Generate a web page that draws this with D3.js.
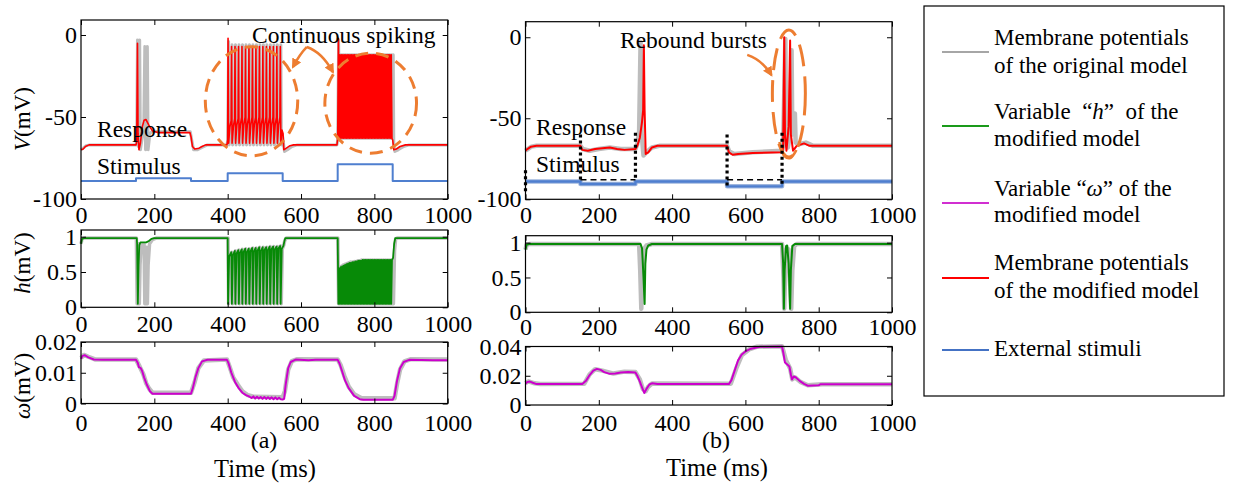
<!DOCTYPE html>
<html><head><meta charset="utf-8">
<script src="https://cdn.jsdelivr.net/npm/d3@7"></script>
<style>body{margin:0;background:#fff}svg{display:block}svg text{font-family:"Liberation Serif","DejaVu Serif","Noto Serif",serif !important;fill:#000}</style>
</head><body><svg id="c" width="1233" height="486"></svg>
<script>
// ---------- tick labels ----------
const timeTicks = [0,200,400,600,800,1000];
const vTicks = [0,-50,-100];
const hTicks = [0,0.5,1];
const wTicksA = [0,0.01,0.02];
const wTicksB = [0,0.02,0.04];

// ---------- panel (a) ----------
const stimA = [[0,-89],[150,-89],[150,-87.4],[300,-87.4],[300,-89],[400,-89],[400,-84.3],[550,-84.3],[550,-89],[700,-89],[700,-78.8],[850,-78.8],[850,-89],[1000,-89]];
const vOrigA = [[0,-70],[6,-69],[14,-67.5],[24,-67],[150,-67],[152,-63],[154,-3],[156,-68],[158,-62],[160,-3],[162,-70],[166,-64],[171,-58],[174,-7],[176,-70],[178,-62],[181,-7],[183,-70],[188,-60],[196,-58.5],[210,-59],[298,-59],[302,-64],[307,-70],[318,-70],[330,-68.5],[345,-67],[398,-67],
[400,-64],[402.5,-4],[404,-67],[407.5,-56],[411,-51],[412,-6],[413.5,-67],[417,-55],[420.5,-51],[421.5,-6],[423,-67],[426.5,-55],[430,-50],[431,-6],[432.5,-67],[436,-55],[439.5,-50],[440.5,-6],[442,-67],[445.5,-55],[449,-50],[450,-6],[451.5,-67],[455,-55],[458.5,-50],[459.5,-6],[461,-67],[464.5,-55],[468,-50],[469,-6],[470.5,-67],[474,-55],[477.5,-50],[478.5,-6],[480,-67],[483.5,-55],[487,-50],[488,-6],[489.5,-67],[493,-55],[496.5,-50],[497.5,-6],[499,-67],[502.5,-55],[506,-50],[507,-6],[508.5,-67],[512,-55],[515.5,-50],[516.5,-6],[518,-67],[521.5,-55],[525,-50],[526,-6],[527.5,-67],[531,-55],[534.5,-50],[535.5,-6],[537,-67],[540.5,-55],[544,-50],[545,-6],[546.5,-67],[550,-62],[555,-71],[563,-70],[575,-68],[590,-67],[698,-67],
[700,-64],[702.5,-3],[705,-63],[707,-12],[710,-63],[712,-12],[715,-63],[717,-12],[720,-63],[722,-12],[725,-63],[727,-12],[730,-63],[732,-12],[735,-63],[737,-12],[740,-63],[742,-12],[745,-63],[747,-12],[750,-63],[752,-12],[755,-63],[757,-12],[760,-63],[762,-12],[765,-63],[767,-12],[770,-63],[772,-12],[775,-63],[777,-12],[780,-63],[782,-12],[785,-63],[787,-12],[790,-63],[792,-12],[795,-63],[797,-12],[800,-63],[802,-12],[805,-63],[807,-12],[810,-63],[812,-12],[815,-63],[817,-12],[820,-63],[822,-12],[825,-63],[827,-12],[830,-63],[832,-12],[835,-63],[837,-12],[840,-63],[842,-12],[845,-63],[847,-12],[850,-63],[851.5,-12],[853,-66],[856,-71],[865,-70],[880,-68],[895,-67],[1000,-67]];
const vModA = [[0,-70],[6,-69.5],[12,-68],[22,-67],[150,-67],[152,-65],[154,-5],[155.5,-60],[158,-70],[162,-66],[167,-56],[172,-52],[177,-51.5],[185,-55],[195,-58.5],[210,-59.5],[297,-59.5],[300,-62],[304,-68],[310,-69.5],[322,-69],[330,-68],[340,-67],[398,-67],
[400,-64],[401,-2],[402.5,-66],[406,-56],[409.5,-52],[410.5,-7],[412,-66],[415.5,-56],[419,-51],[420,-7],[421.5,-66],[425,-55],[428.5,-51],[429.5,-7],[431,-66],[434.5,-55],[438,-50],[439,-7],[440.5,-66],[444,-55],[447.5,-50],[448.5,-7],[450,-66],[453.5,-55],[457,-50],[458,-7],[459.5,-66],[463,-55],[466.5,-50],[467.5,-7],[469,-66],[472.5,-55],[476,-50],[477,-7],[478.5,-66],[482,-55],[485.5,-50],[486.5,-7],[488,-66],[491.5,-55],[495,-50],[496,-7],[497.5,-66],[501,-55],[504.5,-50],[505.5,-7],[507,-66],[510.5,-55],[514,-50],[515,-7],[516.5,-66],[520,-55],[523.5,-50],[524.5,-7],[526,-66],[529.5,-55],[533,-50],[534,-7],[535.5,-66],[539,-55],[542.5,-50],[543.5,-7],[545,-66],[548,-58],[551,-60],[553,-70],[560,-69],[570,-67.5],[580,-67],[698,-67],
[700,-63],[702,-2],[704,-63],[706,-12],[708,-63],[710,-12],[712,-63],[714,-12],[716,-63],[718,-12],[720,-63],[722,-12],[724,-63],[726,-12],[728,-63],[730,-12],[732,-63],[734,-12],[736,-63],[738,-12],[740,-63],[742,-12],[744,-63],[746,-12],[748,-63],[750,-12],[752,-63],[754,-12],[756,-63],[758,-12],[760,-63],[762,-12],[764,-63],[766,-12],[768,-63],[770,-12],[772,-63],[774,-12],[776,-63],[778,-12],[780,-63],[782,-12],[784,-63],[786,-12],[788,-63],[790,-12],[792,-63],[794,-12],[796,-63],[798,-12],[800,-63],[802,-12],[804,-63],[806,-12],[808,-63],[810,-12],[812,-63],[814,-12],[816,-63],[818,-12],[820,-63],[822,-12],[824,-63],[826,-12],[828,-63],[830,-12],[832,-63],[834,-12],[836,-63],[838,-12],[840,-63],[842,-12],[844,-63],[846,-12],[848,-63],[850,-64],[853,-70],[860,-69.5],[870,-68],[885,-67],[1000,-67]];
const hOrigA = [[0,0.9],[3,0.97],[8,0.98],[151,0.98],[153,0.05],[155,0.6],[157,0.9],[159,0.05],[161,0.6],[164,0.88],[172,0.9],[174,0.05],[176,0.6],[179,0.85],[181,0.05],[183,0.6],[187,0.9],[195,0.96],[205,0.98],[399,0.98],
[401,0.98],[402.5,0.05],[405.5,0.72],[411,0.78],[413,0.05],[416,0.74],[421,0.8],[422.5,0.05],[425.5,0.76],[430.5,0.81],[432,0.05],[435,0.77],[440,0.82],[441.5,0.05],[444.5,0.78],[449.5,0.83],[451,0.05],[454,0.78],[459,0.83],[460.5,0.05],[463.5,0.79],[468.5,0.84],[470,0.05],[473,0.79],[478,0.84],[479.5,0.05],[482.5,0.8],[487.5,0.85],[489,0.05],[492,0.8],[497,0.85],[498.5,0.05],[501.5,0.81],[506.5,0.85],[508,0.05],[511,0.81],[516,0.86],[517.5,0.05],[520.5,0.82],[525.5,0.86],[527,0.05],[530,0.82],[535,0.86],[536.5,0.05],[539.5,0.83],[544.5,0.87],[546,0.05],[549,0.83],[553,0.88],[556,0.95],[560,0.98],[699,0.98],
[700.5,0.98],[702.5,0.05],[705,0.55],[707,0.05],[710,0.58],[712,0.05],[715,0.6],[717,0.05],[720,0.61],[722,0.05],[725,0.62],[727,0.05],[730,0.63],[732,0.05],[735,0.64],[737,0.05],[740,0.64],[742,0.05],[745,0.65],[747,0.05],[750,0.65],[752,0.05],[755,0.66],[757,0.05],[760,0.66],[762,0.05],[765,0.67],[767,0.05],[770,0.67],[772,0.05],[775,0.67],[777,0.05],[780,0.67],[782,0.05],[785,0.67],[787,0.05],[790,0.67],[792,0.05],[795,0.67],[797,0.05],[800,0.67],[802,0.05],[805,0.67],[807,0.05],[810,0.67],[812,0.05],[815,0.67],[817,0.05],[820,0.67],[822,0.05],[825,0.67],[827,0.05],[830,0.67],[832,0.05],[835,0.67],[837,0.05],[840,0.67],[842,0.05],[845,0.67],[847,0.05],[850,0.67],[852,0.05],[855,0.8],[858,0.97],[862,0.98],[1000,0.98]];
const hModA = [[0,0.9],[3,0.97],[8,0.98],[152,0.98],[153,0.9],[155,0.05],[157,0.6],[159,0.88],[162,0.92],[178,0.92],[185,0.94],[192,0.97],[200,0.98],[399,0.98],
[400,0.98],[401,0.05],[404,0.72],[410,0.78],[411.5,0.05],[414.5,0.74],[419.5,0.8],[421,0.05],[424,0.76],[429,0.81],[430.5,0.05],[433.5,0.77],[438.5,0.82],[440,0.05],[443,0.78],[448,0.83],[449.5,0.05],[452.5,0.78],[457.5,0.83],[459,0.05],[462,0.79],[467,0.84],[468.5,0.05],[471.5,0.79],[476.5,0.84],[478,0.05],[481,0.8],[486,0.85],[487.5,0.05],[490.5,0.8],[495.5,0.85],[497,0.05],[500,0.81],[505,0.85],[506.5,0.05],[509.5,0.81],[514.5,0.86],[516,0.05],[519,0.82],[524,0.86],[525.5,0.05],[528.5,0.82],[533.5,0.86],[535,0.05],[538,0.83],[543,0.87],[544.5,0.05],[547.5,0.83],[552,0.87],[554,0.92],[557,0.98],[699,0.98],
[700,0.98],[702,0.05],[704,0.55],[706,0.05],[708,0.57],[710,0.05],[712,0.58],[714,0.05],[716,0.59],[718,0.05],[720,0.6],[722,0.05],[724,0.61],[726,0.05],[728,0.62],[730,0.05],[732,0.63],[734,0.05],[736,0.63],[738,0.05],[740,0.64],[742,0.05],[744,0.64],[746,0.05],[748,0.65],[750,0.05],[752,0.65],[754,0.05],[756,0.66],[758,0.05],[760,0.66],[762,0.05],[764,0.66],[766,0.05],[768,0.67],[770,0.05],[772,0.67],[774,0.05],[776,0.67],[778,0.05],[780,0.67],[782,0.05],[784,0.67],[786,0.05],[788,0.67],[790,0.05],[792,0.67],[794,0.05],[796,0.67],[798,0.05],[800,0.67],[802,0.05],[804,0.67],[806,0.05],[808,0.67],[810,0.05],[812,0.67],[814,0.05],[816,0.67],[818,0.05],[820,0.67],[822,0.05],[824,0.67],[826,0.05],[828,0.67],[830,0.05],[832,0.67],[834,0.05],[836,0.67],[838,0.05],[840,0.67],[842,0.05],[844,0.67],[846,0.05],[848,0.67],[851,0.7],[854,0.9],[857,0.98],[1000,0.98]];
const wOrigA = [[0,0.0148],[8,0.0158],[20,0.0152],[40,0.0143],[150,0.0143],[160,0.012],[170,0.0095],[178,0.0065],[186,0.0048],[195,0.0035],[300,0.0035],[310,0.007],[320,0.0115],[335,0.014],[398,0.0143],[405,0.012],[415,0.0085],[428,0.006],[440,0.004],[455,0.0027],[470,0.0022],[550,0.002],[556,0.004],[565,0.011],[575,0.0138],[590,0.0144],[700,0.0143],[708,0.0125],[718,0.009],[730,0.0055],[745,0.003],[765,0.0017],[855,0.0017],[862,0.0065],[870,0.011],[882,0.0137],[900,0.0144],[1000,0.0143]];
const wModA = [[0,0.0145],[4,0.0155],[10,0.0157],[20,0.015],[35,0.0143],[60,0.0142],[150,0.0142],[155,0.0132],[158,0.0118],[163,0.0115],[167,0.0105],[172,0.0085],[180,0.006],[188,0.004],[195,0.0032],[300,0.0032],[305,0.005],[312,0.0085],[320,0.0115],[330,0.0137],[345,0.0142],[398,0.0142],[402,0.0132],[410,0.01],[420,0.007],[430,0.005],[440,0.0035],[450,0.0027],[460,0.0022],[465,0.0018],[470,0.0023],[475,0.0016],[480,0.0022],[485,0.0016],[490,0.0021],[495,0.0015],[500,0.0021],[505,0.0015],[510,0.002],[515,0.0015],[520,0.002],[525,0.0014],[530,0.002],[535,0.0014],[540,0.0019],[545,0.0014],[550,0.0013],[554,0.0015],[558,0.006],[565,0.0115],[572,0.0135],[585,0.0143],[620,0.0141],[640,0.0142],[700,0.0142],[705,0.013],[712,0.0105],[720,0.0075],[730,0.005],[745,0.0025],[760,0.0014],[770,0.0012],[850,0.0012],[855,0.0025],[862,0.0075],[870,0.0115],[880,0.0135],[895,0.0142],[960,0.0141],[1000,0.0141]];

// ---------- panel (b) ----------
const stimB = [[0,-89],[150,-89],[150,-90.6],[300,-90.6],[300,-89],[550,-89],[550,-92],[700,-92],[700,-89],[1000,-89]];
const vOrigB = [[0,-70],[6,-69],[16,-67.5],[30,-67],[150,-67],[156,-69],[175,-70],[200,-69],[230,-68],[260,-69],[300,-69],[305,-66],[310,-58],[314,-3],[317,-60],[322,-73],[330,-71],[345,-68],[365,-67],[550,-67],[556,-70.5],[570,-72],[620,-71],[700,-70],[703,-67],[709,-1],[711,-60],[716,-68],[722,-60],[726,-8],[728,-60],[735,-47],[737,-65],[745,-66],[765,-65],[785,-67],[1000,-67]];
const vModB = [[0,-70],[5,-69],[15,-67.5],[30,-67],[150,-67],[155,-69.5],[170,-70],[190,-69],[210,-68.5],[230,-68],[250,-69],[270,-69.5],[300,-69],[305,-67],[312,-62],[318,-52],[321,-45],[323,-5],[325,-45],[328,-72],[335,-71],[345,-68],[360,-67],[550,-67],[555,-71],[565,-72.5],[580,-72],[620,-71.5],[700,-71],[703,-68],[706,0],[708,-60],[712,-70],[718,-55],[722,-2],[724,-60],[730,-70],[740,-67],[760,-65.5],[775,-67],[1000,-67]];
const hOrigB = [[0,0.9],[3,0.97],[10,0.98],[310,0.98],[313,0.6],[316,0.05],[318,0.6],[322,0.9],[330,0.96],[345,0.98],[700,0.98],[704,0.5],[706,0.05],[709,0.7],[713,0.92],[718,0.9],[723,0.3],[725,0.05],[728,0.6],[733,0.95],[740,0.98],[1000,0.98]];
const hModB = [[0,0.9],[3,0.97],[10,0.98],[314,0.98],[318,0.92],[322,0.5],[325,0.12],[327,0.7],[330,0.9],[335,0.96],[345,0.98],[700,0.98],[703,0.7],[705,0.05],[707,0.6],[711,0.95],[714,0.96],[718,0.7],[722,0.05],[724,0.6],[728,0.95],[735,0.98],[1000,0.98]];
const wOrigB = [[0,0.015],[8,0.0162],[25,0.0148],[40,0.0143],[160,0.0145],[175,0.021],[190,0.0245],[210,0.0235],[240,0.0215],[270,0.0228],[300,0.0225],[312,0.0175],[320,0.011],[328,0.0095],[335,0.0125],[345,0.0147],[560,0.0145],[575,0.025],[590,0.034],[610,0.038],[630,0.0398],[700,0.0402],[710,0.031],[722,0.025],[728,0.0175],[735,0.019],[750,0.0158],[770,0.0135],[810,0.0142],[1000,0.0142]];
const wModB = [[0,0.0145],[5,0.0158],[12,0.016],[20,0.0152],[30,0.0143],[155,0.0143],[165,0.0165],[175,0.0205],[185,0.0235],[195,0.0247],[205,0.024],[215,0.0225],[230,0.0213],[245,0.0215],[260,0.0222],[280,0.0225],[300,0.0222],[305,0.02],[312,0.016],[318,0.012],[324,0.0082],[330,0.011],[338,0.014],[345,0.0148],[360,0.0143],[555,0.0143],[562,0.017],[570,0.023],[580,0.0305],[590,0.0345],[600,0.0366],[615,0.0385],[640,0.0398],[700,0.04],[704,0.035],[708,0.029],[715,0.0275],[720,0.0263],[724,0.021],[727,0.0175],[732,0.0195],[738,0.0188],[748,0.0165],[760,0.0145],[770,0.0132],[800,0.0135],[805,0.0142],[1000,0.0142]];

// ---------- annotations (data units) ----------
const dashHorizB = [[150,300,-88],[550,700,-88]];
const dottedVertB = [[150,-60,-88],[300,-59,-88],[550,-60,-92],[700,-59,-92],[0,-82,-96]];
const ellipsesA = [[465,-40.4,126,33.3],[790,-41.6,125,30.5]];
const ellipsesB = [[718.6,-34.7,45,39.2]];
const arrowsA = [[[616,-7.3],[597,-11.6],[578,-19.5]],[[616,-7.3],[657,-10.4],[687,-22.6]]];
const arrowsB = [[[605,-10.9],[646,-14],[671,-23.3]]];
const orangeArcB = [[692.7,-64.6],[706.4,-73.3],[722.7,-74.5],[739,-69.6]];

const legendLabels = [
  ["Membrane potentials","of the original model"],
  ["Variable  \u201Ch\u201D  of the","modified model"],
  ["Variable \u201C\u03C9\u201D of the","modified model"],
  ["Membrane potentials","of the modified model"],
  ["External stimuli"]
];
const legendColors = ["#a6a6a6","#1a9a1a","#d12fd1","#ff0000","#4472c4"];

// ---------- drawing ----------
const svg = d3.select("#c");
const C = {gray:"#bdbdbd", red:"#ff0000", green:"#078a07", mag:"#cc00cc", blue:"#4f7fcf", orange:"#ed7d31"};
const FS = 24;
const SERIF = "'Liberation Serif','DejaVu Serif','Noto Serif',serif";

svg.append("defs").append("marker").attr("id","ah").attr("viewBox","0 0 10 10")
  .attr("refX",8).attr("refY",5).attr("markerWidth",4).attr("markerHeight",4).attr("orient","auto")
  .append("path").attr("d","M0,0L10,5L0,10z").attr("fill",C.orange);

function panel(cfg){
  const x = d3.scaleLinear().domain([0,1000]).range([cfg.x0,cfg.x1]);
  const y = d3.scaleLinear().domain(cfg.domain).range([cfg.y1,cfg.y0]);
  const line = d3.line().x(d=>x(d[0])).y(d=>y(d[1]));
  const g = svg.append("g");
  cfg.series.forEach(s=>{
    g.append("path").attr("d",line(s.data)).attr("fill","none").attr("stroke",s.color)
      .attr("stroke-width",s.w).attr("stroke-linejoin","round");
  });
  const fmt = d=>String(d);
  const ax = (gen,tr)=>{
    const a = svg.append("g").attr("transform",tr).call(gen);
    a.select(".domain").remove();
    a.selectAll("line").attr("stroke","#000");
    a.attr("font-size",FS).attr("font-family",SERIF);
    a.selectAll("text").attr("fill","#000").style("font-family",SERIF);
    return a;
  };
  ax(d3.axisBottom(x).tickValues(timeTicks).tickSize(-5).tickPadding(cfg.xpad).tickFormat(fmt),`translate(0,${cfg.y1})`);
  ax(d3.axisTop(x).tickValues(timeTicks).tickSize(-5).tickFormat(""),`translate(0,${cfg.y0})`);
  ax(d3.axisLeft(y).tickValues(cfg.ticks).tickSize(-5).tickPadding(4).tickFormat(fmt),`translate(${cfg.x0},0)`);
  ax(d3.axisRight(y).tickValues(cfg.ticks).tickSize(-5).tickFormat(""),`translate(${cfg.x1},0)`);
  svg.append("rect").attr("x",cfg.x0).attr("y",cfg.y0).attr("width",cfg.x1-cfg.x0).attr("height",cfg.y1-cfg.y0)
    .attr("fill","none").attr("stroke","#000").attr("stroke-width",1.2);
  return {x,y,line};
}

const pVA = panel({x0:81,x1:447.7,y0:20,y1:199,domain:[-100,9.15],ticks:vTicks,xpad:7,series:[
  {data:stimA,color:C.blue,w:2},
  {data:vOrigA,color:C.gray,w:3},
  {data:vModA,color:C.red,w:1.6}]});
const pVB = panel({x0:525.5,x1:892,y0:21.7,y1:199.3,domain:[-100,9.6],ticks:vTicks,xpad:7,series:[
  {data:stimB,color:"#9fb6dd",w:4.5},
  {data:stimB,color:C.blue,w:2.4},
  {data:vOrigB,color:C.gray,w:4.5},
  {data:vModB,color:C.red,w:2}]});
panel({x0:81,x1:447.7,y0:230,y1:307.3,domain:[0,1.095],ticks:hTicks,xpad:8,series:[
  {data:hOrigA,color:C.gray,w:3.5},
  {data:hModA,color:C.green,w:1.8}]});
panel({x0:525.5,x1:892,y0:235.7,y1:312.3,domain:[0,1.1],ticks:hTicks,xpad:6,series:[
  {data:hOrigB,color:C.gray,w:4.5},
  {data:hModB,color:C.green,w:2}]});
panel({x0:81,x1:447.7,y0:342,y1:403.5,domain:[0,0.02],ticks:wTicksA,xpad:10,series:[
  {data:wOrigA,color:C.gray,w:4.5},
  {data:wModA,color:C.mag,w:2}]});
panel({x0:525.5,x1:892,y0:346.5,y1:405,domain:[0,0.04],ticks:wTicksB,xpad:9,series:[
  {data:wOrigB,color:C.gray,w:4.5},
  {data:wModB,color:C.mag,w:2}]});

// annotations panel (a)
ellipsesA.forEach(e=>{
  const [cx,cy,rx,ry]=e;
  svg.append("ellipse").attr("cx",pVA.x(cx)).attr("cy",pVA.y(cy))
    .attr("rx",pVA.x(cx+rx)-pVA.x(cx)).attr("ry",pVA.y(cy-ry)-pVA.y(cy))
    .attr("fill","none").attr("stroke",C.orange).attr("stroke-width",3).attr("stroke-dasharray","13,8");
});
arrowsA.forEach(a=>{
  const p=a.map(d=>[pVA.x(d[0]),pVA.y(d[1])]);
  svg.append("path").attr("d",`M${p[0]}Q${p[1]} ${p[2]}`).attr("fill","none").attr("stroke",C.orange)
    .attr("stroke-width",2.5).attr("marker-end","url(#ah)");
});
// annotations panel (b)
ellipsesB.forEach(e=>{
  const [cx,cy,rx,ry]=e;
  svg.append("ellipse").attr("cx",pVB.x(cx)).attr("cy",pVB.y(cy))
    .attr("rx",pVB.x(cx+rx)-pVB.x(cx)).attr("ry",pVB.y(cy-ry)-pVB.y(cy))
    .attr("fill","none").attr("stroke",C.orange).attr("stroke-width",3).attr("stroke-dasharray","22,10");
});
arrowsB.forEach(a=>{
  const p=a.map(d=>[pVB.x(d[0]),pVB.y(d[1])]);
  svg.append("path").attr("d",`M${p[0]}Q${p[1]} ${p[2]}`).attr("fill","none").attr("stroke",C.orange)
    .attr("stroke-width",2.5).attr("marker-end","url(#ah)");
});
svg.append("path").attr("d",d3.line().curve(d3.curveCatmullRom).x(d=>pVB.x(d[0])).y(d=>pVB.y(d[1]))(orangeArcB))
  .attr("fill","none").attr("stroke",C.orange).attr("stroke-width",2.5);
dashHorizB.forEach(d=>{
  svg.append("line").attr("x1",pVB.x(d[0])).attr("x2",pVB.x(d[1])).attr("y1",pVB.y(d[2])).attr("y2",pVB.y(d[2]))
    .attr("stroke","#000").attr("stroke-width",1.5).attr("stroke-dasharray","6,4");
});
dottedVertB.forEach(d=>{
  svg.append("line").attr("x1",pVB.x(d[0])).attr("x2",pVB.x(d[0])).attr("y1",pVB.y(d[1])).attr("y2",pVB.y(d[2]))
    .attr("stroke","#000").attr("stroke-width",3.2).attr("stroke-dasharray","3,3");
});

// texts
function txt(x,y,s,size,anchor){
  return svg.append("text").attr("x",x).attr("y",y).attr("font-size",size||23).attr("font-family",SERIF)
    .attr("text-anchor",anchor||"start").text(s);
}
txt(252,43,"Continuous spiking",23.5);
txt(97,137,"Response",23.5);
txt(97,174,"Stimulus",23.5);
txt(620,48,"Rebound bursts",23.5);
txt(536,135,"Response",23.5);
txt(536,172,"Stimulus",23.5);
txt(264,448,"(a)",24,"middle");
txt(716,448,"(b)",24,"middle");
txt(265,477,"Time (ms)",24.5,"middle");
txt(717,476,"Time (ms)",24.5,"middle");

function ylab(cx,cy,sym){
  const t = svg.append("text").attr("transform",`translate(${cx},${cy}) rotate(-90)`).attr("font-family",SERIF)
    .attr("text-anchor","middle").attr("dominant-baseline","central").attr("font-size",23);
  t.append("tspan").attr("font-style","italic").text(sym);
  t.append("tspan").text("(mV)");
}
ylab(22,119,"V");
ylab(22,263,"h");
ylab(22,386,"\u03C9");

// legend
svg.append("rect").attr("x",924).attr("y",6).attr("width",300).attr("height",390)
  .attr("fill","none").attr("stroke","#000").attr("stroke-width",1.2);
const legLineY = [52,126,203,278,350];
const legTextY = [[45,73],[119,146],[196,222],[270,298],[356]];
legendLabels.forEach((lab,i)=>{
  svg.append("line").attr("x1",942).attr("x2",989).attr("y1",legLineY[i]).attr("y2",legLineY[i])
    .attr("stroke",legendColors[i]).attr("stroke-width",2);
  lab.forEach((s,j)=>{
    const t = svg.append("text").attr("x",994).attr("y",legTextY[i][j]).attr("font-size",23).attr("font-family",SERIF)
      .style("white-space","pre");
    if(i===1 && j===0){
      t.append("tspan").text("Variable  \u201C");
      t.append("tspan").attr("font-style","italic").text("h");
      t.append("tspan").text("\u201D  of the");
    } else if(i===2 && j===0){
      t.append("tspan").text("Variable \u201C");
      t.append("tspan").attr("font-style","italic").text("\u03C9");
      t.append("tspan").text("\u201D of the");
    } else t.text(s);
  });
});
</script></body></html>
